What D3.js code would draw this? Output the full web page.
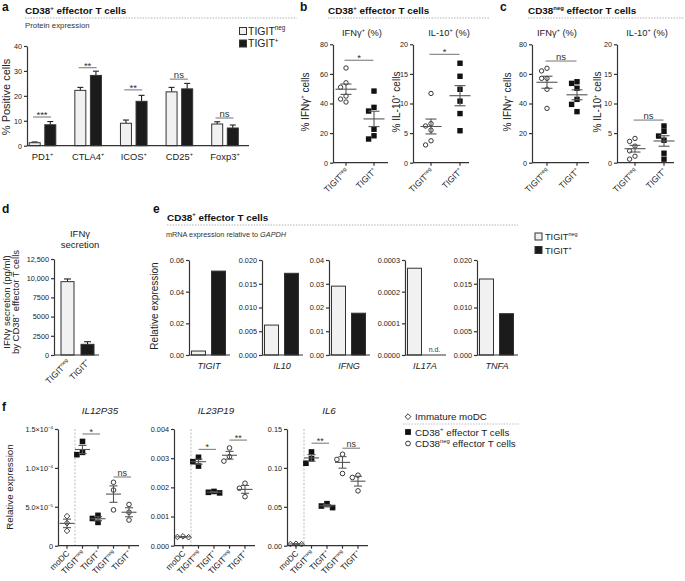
<!DOCTYPE html>
<html><head><meta charset="utf-8">
<script src="https://cdn.jsdelivr.net/npm/d3@7"></script>
<style>
body{margin:0;background:#fff;}
svg{font-family:"Liberation Sans",Arial,Helvetica,sans-serif;}
</style></head><body>
<svg id="c" width="685" height="581"></svg>
<script>
// ---------------- DATA ----------------
// panel a
const aCategories = ["PD1{+}","CTLA4{+}","ICOS{+}","CD25{+}","Foxp3{+}"];
const aNeg    = [1.2, 22.2, 9.0, 21.6, 8.7];
const aNegErr = [0.3, 1.2, 1.3, 1.8, 0.9];
const aPos    = [8.4, 28.2, 17.8, 22.8, 7.1];
const aPosErr = [1.3, 1.7, 2.4, 2.2, 1.2];
const aSig      = ["***","**","**","ns","ns"];
const aSigLevel = [11.5, 31.3, 22.4, 26.7, 11.1];
const aTicks = [0,10,20,30,40];

// panels b, c
const groupLabels = ["TIGIT{neg}","TIGIT{+}"];
const bIfngNeg = [64, 54, 51, 45, 43, 41];
const bIfngPos = [48.4, 37.4, 34.9, 22.6, 18.2, 16.0];
const bIl10Neg = [11.7, 6.6, 6.2, 5.5, 3.7, 3.0];
const bIl10Pos = [16.8, 14.6, 12.4, 10.4, 8.3, 5.4];
const cIfngNeg = [63.8, 62.0, 57.0, 57.0, 49.6, 36.7];
const cIfngPos = [54.7, 53.6, 50.3, 42.8, 39.4, 34.5];
const cIl10Neg = [4.1, 3.6, 2.8, 2.0, 1.1, 0.6];
const cIl10Pos = [6.2, 5.3, 4.5, 3.8, 1.6, 0.6];
const ifngTicks = [0,20,40,60,80];
const il10Ticks = [0,5,10,15,20];
const bcSig = ["*","*","ns","ns"];
const bcSigLevel = [69.2, 18.3, 68.7, 7.2];

// panel d
const dValues = [9550, 1390];
const dErr    = [350, 340];
const dTicks  = [0,2500,5000,7500,10000,12500];
const dTickLabels = ["0","2500","5000","7500","10,000","12,500"];

// panel e
const eGenes = ["TIGIT","IL10","IFNG","IL17A","TNFA"];
const eNeg = [0.0025, 0.0063, 0.029, 0.000274, 0.016];
const ePos = [0.053, 0.0172, 0.0176, null, 0.0087];
const eMax = [0.06, 0.020, 0.04, 0.0003, 0.020];
const eTicks = [
  [0,0.02,0.04,0.06],
  [0,0.005,0.010,0.015,0.020],
  [0,0.01,0.02,0.03,0.04],
  [0,0.0001,0.0002,0.0003],
  [0,0.005,0.010,0.015,0.020]];
const eDecimals = [2,3,2,4,3];

// panel f
const fCats = ["moDC","TIGIT{neg}","TIGIT{+}","TIGIT{neg}","TIGIT{+}"];
const fGenes = ["IL12P35","IL23P19","IL6"];
const fIl12 = [[3.8e-5,2.9e-5,1.9e-5],[1.34e-4,1.20e-4,1.17e-4],[3.9e-5,3.5e-5,3.0e-5],[8.15e-5,7.15e-5,4.6e-5],[5.3e-5,4.3e-5,3.3e-5]];
const fIl23 = [[0.00032,0.00030,0.00029],[0.00303,0.00288,0.00273],[0.00186,0.00183,0.00181],[0.00335,0.00305,0.00290],[0.00214,0.00197,0.00168]];
const fIl6  = [[0.0025,0.0022,0.0020],[0.1205,0.112,0.106],[0.054,0.051,0.049],[0.1176,0.1108,0.0928],[0.0906,0.0877,0.0705]];
const fMax = [1.5e-4, 0.004, 0.15];
const fTicks = [[0,5e-5,1e-4,1.5e-4],[0,0.001,0.002,0.003,0.004],[0,0.05,0.10,0.15]];
const fTickLabels = [["0","5.0×10{−5}","1.0×10{−4}","1.5×10{−4}"],
  ["0.000","0.001","0.002","0.003","0.004"],["0.00","0.05","0.10","0.15"]];
const fSig = [["*","ns"],["*","**"],["**","ns"]];
const fSigLevel = [[1.436e-4,8.83e-5],[0.0033,0.00362],[0.1317,0.1253]];
const fShapes = ["diamond","square","square","circle","circle"];
const fLegend = ["Immature moDC","CD38{+} effector T cells","CD38{neg} effector T cells"];

// ---------------- HELPERS ----------------
const svg = d3.select("#c");
const AX = "#333", TXT = "#222", SIG = "#8a8a8a";

function rich(sel, str, fs) {
  const parts = str.split(/(\{[^}]*\})/).filter(s => s.length);
  let up = false;
  parts.forEach(p => {
    if (p.startsWith("{")) {
      sel.append("tspan").attr("dy", -fs*0.42).attr("font-size", fs*0.6).text(p.slice(1,-1));
      up = true;
    } else {
      const t = sel.append("tspan").text(p);
      if (up) { t.attr("dy", fs*0.42); up = false; }
    }
  });
  return sel;
}
function text(x, y, str, fs, opts={}) {
  const t = svg.append("text").attr("x", x).attr("y", y).attr("font-size", fs)
    .attr("fill", opts.fill || TXT).attr("text-anchor", opts.anchor || "start");
  if (opts.weight) t.attr("font-weight", opts.weight);
  if (opts.italic) t.attr("font-style", "italic");
  if (opts.rotate !== undefined) t.attr("transform", `rotate(${opts.rotate},${x},${y})`);
  return rich(t, str, fs);
}
function line(x1,y1,x2,y2,stroke,w,dash) {
  const l = svg.append("line").attr("x1",x1).attr("y1",y1).attr("x2",x2).attr("y2",y2)
    .attr("stroke",stroke).attr("stroke-width",w);
  if (dash) l.attr("stroke-dasharray", dash);
  return l;
}
function yAxis(x, y, ticks, labels, fs) {
  const g = svg.append("g").attr("transform", `translate(${x},0)`)
    .call(d3.axisLeft(y).tickValues(ticks).tickSize(3).tickSizeOuter(0).tickPadding(2)
      .tickFormat(() => ""));
  g.select(".domain").attr("stroke", AX).attr("stroke-width", 1.2);
  g.selectAll(".tick line").attr("stroke", AX).attr("stroke-width", 1.2);
  g.selectAll(".tick text").each(function(d,i){
    const t = d3.select(this).attr("font-size", fs).attr("fill", TXT).attr("font-family", null);
    rich(t, labels[i], fs);
  });
  return g;
}
function header(letter, lx, title, tx, x2) {
  text(lx, 10.5, letter, 12, {weight:"bold", fill:"#111"});
  text(tx, 14, title, 9.9, {weight:"bold", fill:"#111"});
  line(tx, 18, x2, 18, "#999", 0.8, "1.4,1.4");
}
// deterministic dodge so overlapping markers sit side by side
function dodge(vals, y, size) {
  const placed = [];
  const order = vals.map((v,i)=>i).sort((a,b)=>vals[b]-vals[a]);
  const off = new Array(vals.length).fill(0);
  order.forEach(i => {
    const py = y(vals[i]);
    for (const c of [0,-1,1,-2,2,-3,3]) {
      const px = c*size;
      if (placed.every(p => Math.hypot(p[0]-px, p[1]-py) >= size*0.95)) {
        off[i] = px; placed.push([px,py]); break;
      }
    }
  });
  return off;
}
function marker(x, y, shape, s) {
  if (shape === "square") {
    svg.append("rect").attr("x", x-s/2).attr("y", y-s/2).attr("width", s).attr("height", s).attr("fill", "#111");
  } else if (shape === "circle") {
    svg.append("circle").attr("cx", x).attr("cy", y).attr("r", s/2-0.5)
      .attr("fill", "#fff").attr("stroke", "#222").attr("stroke-width", 0.9);
  } else {
    const r = s/2;
    svg.append("path").attr("d", `M${x},${y-r}L${x+r},${y}L${x},${y+r}L${x-r},${y}Z`)
      .attr("fill", "#fff").attr("stroke", "#222").attr("stroke-width", 0.9);
  }
}
function scatterGroup(cx, y, vals, shape, s, meanW, capW) {
  const off = dodge(vals, y, s);
  vals.forEach((v,i) => marker(cx + off[i], y(v), shape, s));
  const m = d3.mean(vals), se = d3.deviation(vals)/Math.sqrt(vals.length);
  line(cx-meanW/2, y(m), cx+meanW/2, y(m), "#555", 1.1);
  line(cx, y(m-se), cx, y(m+se), "#555", 1.1);
  line(cx-capW/2, y(m+se), cx+capW/2, y(m+se), "#555", 1.1);
  line(cx-capW/2, y(m-se), cx+capW/2, y(m-se), "#555", 1.1);
}
function sigMark(x1, x2, yy, label, fs) {
  line(x1, yy, x2, yy, SIG, 1.2);
  const star = label.includes("*");
  text((x1+x2)/2, yy + (star ? 0.8*fs/9.5 + 0.2 : -1.5), label, fs, {anchor:"middle", fill:"#333"});
}
function rotLabel(x, y, str, fs) {
  text(x, y, str, fs, {anchor:"end", rotate:-45});
}

// ---------------- PANEL A ----------------
header("a", 2, "CD38{+} effector T cells", 25, 297);
text(25, 27.5, "Protein expression", 7.8, {fill:"#333"});
{
  const y = d3.scaleLinear().domain([0,40]).range([145.7, 46]);
  const x = d3.scalePoint().domain(aCategories).range([42.5, 225]);
  const bw = 11, off = 7.8;
  aCategories.forEach((c,i) => {
    const cx = x(c);
    [[aNeg[i], aNegErr[i], -off, "#f1f1f1"], [aPos[i], aPosErr[i], off, "#1b1b1b"]].forEach(([v,e,o,f]) => {
      const bx = cx + o;
      line(bx, y(v), bx, y(v+e), "#222", 1.1);
      line(bx-3, y(v+e), bx+3, y(v+e), "#222", 1.1);
      svg.append("rect").attr("x", bx-bw/2).attr("y", y(v)).attr("width", bw).attr("height", y(0)-y(v))
        .attr("fill", f).attr("stroke", "#333").attr("stroke-width", 1);
    });
    sigMark(cx-9.5, cx+8.5, y(aSigLevel[i]), aSig[i], 9.5);
    text(cx, 159.5, c, 9.4, {anchor:"middle"});
  });
  yAxis(27, y, aTicks, aTicks.map(String), 7.2);
  line(27, y(0), 249, y(0), AX, 1.2);
  text(9.5, 97, "% Positive cells", 11, {anchor:"middle", rotate:-90});
  // legend
  svg.append("rect").attr("x",239.5).attr("y",27.5).attr("width",7).attr("height",7).attr("fill","#f1f1f1").attr("stroke","#333");
  text(248, 34.5, "TIGIT{neg}", 10.5);
  svg.append("rect").attr("x",239.5).attr("y",40).attr("width",7).attr("height",7).attr("fill","#1b1b1b").attr("stroke","#333");
  text(248, 47, "TIGIT{+}", 10.5);
}

// ---------------- PANELS B, C ----------------
header("b", 300, "CD38{+} effector T cells", 328, 490);
header("c", 500, "CD38{neg} effector T cells", 528, 684);
{
  const subs = [
    {ax:333, cats:[346,374], end:388, max:80, ticks:ifngTicks, neg:bIfngNeg, pos:bIfngPos, title:"IFNγ{+} (%)", tc:362, ylab:"% IFNγ{+} cells", yl:308.5},
    {ax:413, cats:[431,460], end:469, max:20, ticks:il10Ticks, neg:bIl10Neg, pos:bIl10Pos, title:"IL-10{+} (%)", tc:449, ylab:"% IL-10{+} cells", yl:399.5},
    {ax:532, cats:[547,577], end:589, max:80, ticks:ifngTicks, neg:cIfngNeg, pos:cIfngPos, title:"IFNγ{+} (%)", tc:557, ylab:"% IFNγ{+} cells", yl:511},
    {ax:617, cats:[635,664], end:674, max:20, ticks:il10Ticks, neg:cIl10Neg, pos:cIl10Pos, title:"IL-10{+} (%)", tc:647, ylab:"% IL-10{+} cells", yl:601}];
  subs.forEach((s,k) => {
    const y = d3.scaleLinear().domain([0, s.max]).range([162.7, 44.3]);
    const x = d3.scalePoint().domain(groupLabels).range(s.cats);
    yAxis(s.ax, y, s.ticks, s.ticks.map(String), 7.2);
    line(s.ax, y(0), s.end, y(0), AX, 1.2);
    groupLabels.forEach(g => {
      line(x(g), y(0), x(g), y(0)+3, AX, 1.2);
      rotLabel(x(g)+3, y(0)+9, g, 8.5);
    });
    scatterGroup(x(groupLabels[0]), y, s.neg, "circle", 5.4, 21, 11);
    scatterGroup(x(groupLabels[1]), y, s.pos, "square", 5.4, 21, 11);
    sigMark(x(groupLabels[0])-1.5, x(groupLabels[1])-0.5, y(bcSigLevel[k]), bcSig[k], 9.5);
    text(s.tc, 36, s.title, 9.3, {anchor:"middle"});
    text(s.yl, 102, s.ylab, 10, {anchor:"middle", rotate:-90});
  });
}

// ---------------- PANEL D ----------------
text(2, 213, "d", 12, {weight:"bold", fill:"#111"});
{
  const y = d3.scaleLinear().domain([0,12500]).range([355, 259]);
  const x = d3.scalePoint().domain(groupLabels).range([67.5, 87.5]);
  const fills = ["#f1f1f1", "#1b1b1b"];
  groupLabels.forEach((g,i) => {
    const cx = x(g), v = dValues[i], e = dErr[i];
    line(cx, y(v), cx, y(v+e), "#222", 1.1);
    line(cx-3.5, y(v+e), cx+3.5, y(v+e), "#222", 1.1);
    svg.append("rect").attr("x", cx-6.5).attr("y", y(v)).attr("width", 13).attr("height", y(0)-y(v))
      .attr("fill", fills[i]).attr("stroke", "#333").attr("stroke-width", 1);
    rotLabel(cx+3, 363, g, 8.5);
  });
  yAxis(54, y, dTicks, dTickLabels, 7.3);
  line(54, y(0), 99, y(0), AX, 1.2);
  text(80, 236.5, "IFNγ", 9.5, {anchor:"middle"});
  text(80, 248, "secretion", 9.5, {anchor:"middle"});
  text(9.5, 302, "IFNγ secretion (pg/ml)", 9.5, {anchor:"middle", rotate:-90});
  text(18.5, 302, "by CD38{+} effector T cells", 9.5, {anchor:"middle", rotate:-90});
}

// ---------------- PANEL E ----------------
text(153, 213, "e", 12, {weight:"bold", fill:"#111"});
text(167, 220.5, "CD38{+} effector T cells", 9.9, {weight:"bold", fill:"#111"});
line(167, 225, 518, 225, "#999", 0.8, "1.4,1.4");
{
  const t = svg.append("text").attr("x",166).attr("y",236.5).attr("font-size",7.3).attr("fill","#333");
  t.append("tspan").text("mRNA expression relative to ");
  t.append("tspan").attr("font-style","italic").text("GAPDH");
}
{
  const axX = [189, 262, 329, 405, 477];
  eGenes.forEach((gname,i) => {
    const y = d3.scaleLinear().domain([0, eMax[i]]).range([355, 260]);
    const a = axX[i];
    svg.append("rect").attr("x", a+2.5).attr("y", y(eNeg[i])).attr("width", 14).attr("height", y(0)-y(eNeg[i]))
      .attr("fill", "#f1f1f1").attr("stroke", "#333").attr("stroke-width", 1);
    if (ePos[i] !== null) {
      svg.append("rect").attr("x", a+22.5).attr("y", y(ePos[i])).attr("width", 14).attr("height", y(0)-y(ePos[i]))
        .attr("fill", "#1b1b1b").attr("stroke", "#333").attr("stroke-width", 1);
    } else {
      text(a+29.5, 352, "n.d.", 7, {anchor:"middle", fill:"#333"});
    }
    yAxis(a, y, eTicks[i], eTicks[i].map(v => v.toFixed(eDecimals[i])), 7.3);
    line(a, y(0), a+41, y(0), AX, 1.2);
    text(a+20, 368.5, gname, 9.1, {anchor:"middle", italic:true});
  });
  text(157.5, 306, "Relative expression", 10, {anchor:"middle", rotate:-90});
  svg.append("rect").attr("x",535).attr("y",233).attr("width",7).attr("height",7).attr("fill","#f1f1f1").attr("stroke","#333");
  text(545, 240, "TIGIT{neg}", 9.2);
  svg.append("rect").attr("x",535).attr("y",246.5).attr("width",7).attr("height",7).attr("fill","#1b1b1b").attr("stroke","#333");
  text(545, 253.5, "TIGIT{+}", 9.2);
}

// ---------------- PANEL F ----------------
text(2, 411, "f", 12, {weight:"bold", fill:"#111"});
{
  const axX = [58, 174, 287];
  const fData = [fIl12, fIl23, fIl6];
  fGenes.forEach((gname, k) => {
    const a = axX[k];
    const y = d3.scaleLinear().domain([0, fMax[k]]).range([545.7, 429]);
    const x = d3.scalePoint().domain(d3.range(fCats.length)).range([a+9, a+71]);
    line(a+17, 429, a+17, 545.7, "#aaa", 0.8, "2,1.6");
    fData[k].forEach((vals, j) => scatterGroup(x(j), y, vals, fShapes[j], 5.6, 15, 8));
    yAxis(a, y, fTicks[k], fTickLabels[k], 7.3);
    line(a, y(0), a+81, y(0), AX, 1.2);
    fCats.forEach((c,j) => {
      line(x(j), y(0), x(j), y(0)+3, AX, 1.2);
      rotLabel(x(j)+3, 554, c, 8.3);
    });
    sigMark(x(1), x(2)+2, y(fSigLevel[k][0]), fSig[k][0], 9);
    sigMark(x(3), x(4)+2, y(fSigLevel[k][1]), fSig[k][1], 9);
    text(a+42, 413.5, gname, 9.8, {anchor:"middle", italic:true});
  });
  text(13, 487, "Relative expression", 9.8, {anchor:"middle", rotate:-90});
  // legend
  const lx = 408, ly = [416.7, 432, 443.5];
  ["diamond","square","circle"].forEach((sh,i) => {
    marker(lx, ly[i], sh, 5.8);
    text(lx+7, ly[i]+3.5, fLegend[i], 9.8);
  });
  line(403, 424, 519, 424, "#aaa", 0.8, "1.4,1.4");
}
</script>
</body></html>
